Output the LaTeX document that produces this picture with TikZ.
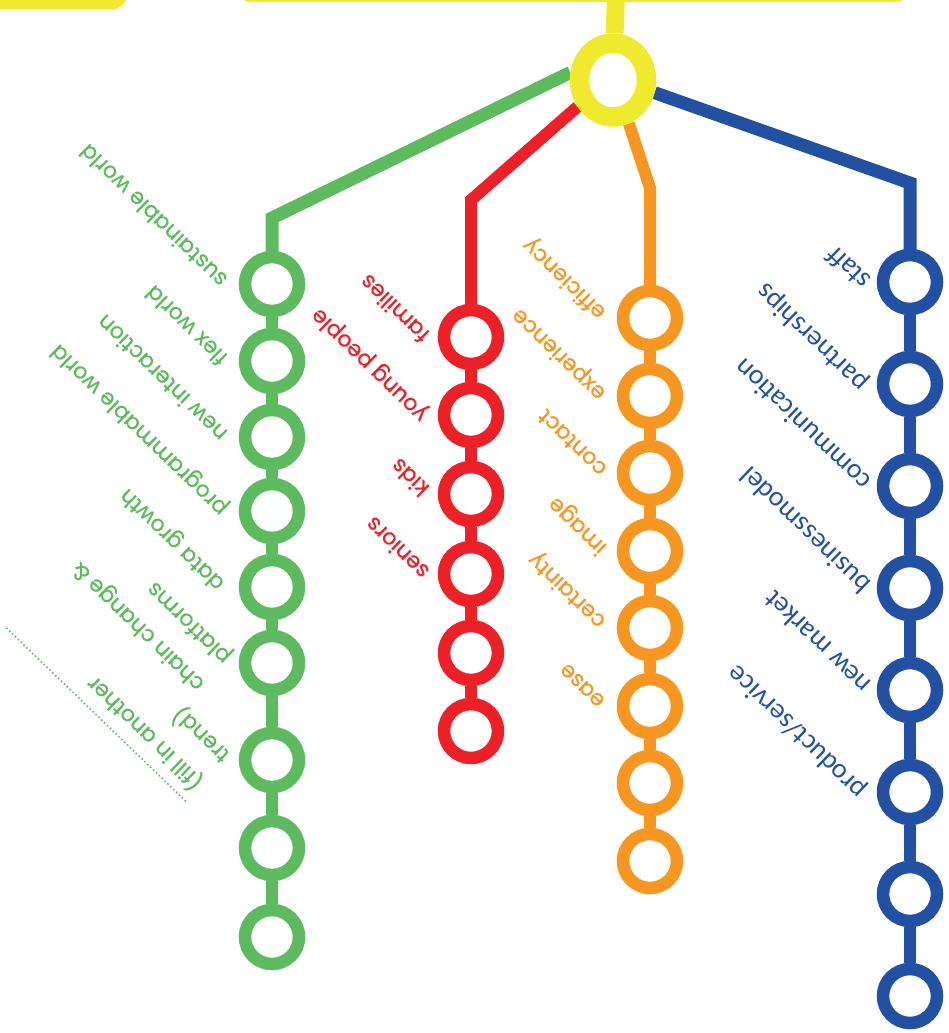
\documentclass[tikz,border=0pt]{standalone}
\usepackage{fontspec}
\setmainfont{Poppins}
\newfontfamily\lblfont[FakeBold=0.6]{Poppins}
\newfontfamily\blufont{Carlito}
\usetikzlibrary{calc,shapes.geometric,backgrounds}
\definecolor{cgreen}{RGB}{94,186,94}
\definecolor{cred}{RGB}{236,32,39}
\definecolor{corange}{RGB}{247,150,32}
\definecolor{cblue}{RGB}{34,80,163}
\definecolor{cyellow}{RGB}{240,234,46}
\begin{document}
\begin{tikzpicture}[x=1pt,y=-1pt,
  ring/.style={circle, draw=#1, line width=12.5pt, fill=white, minimum size=54pt, inner sep=0pt},
  track/.style={draw=#1, line width=12pt},
  lbl/.style={rotate=136, anchor=west, inner sep=0pt, align=left, text=#1,
              font=\lblfont\fontsize{22}{38}\selectfont},
  blbl/.style={rotate=136, anchor=west, inner sep=0pt, align=left, text=cblue,
              font=\blufont\fontsize{28}{34}\selectfont}]
\useasboundingbox (0,0) rectangle (949,1033);
\clip (0,0) rectangle (949,1033);

% top boxes
\fill[cyellow, rounded corners=14pt] (-30,-60) rectangle (127,9);
\fill[cyellow, rounded corners=14pt] (237,-60) rectangle (910,2);

% hub
\node[ellipse, draw=cyellow, line width=19.5pt, fill=white, minimum width=67pt, minimum height=74pt, inner sep=0pt] (hub) at (613,80) {};

% green rings
\foreach \i/\y in {1/284,2/361,3/437,4/511,5/587,6/663,7/760,8/848,9/937}
  \node[ring=cgreen] (g\i) at (272,\y) {};
% red rings
\foreach \i/\y in {1/337,2/415,3/494,4/574,5/653,6/731}
  \node[ring=cred] (r\i) at (471,\y) {};
% orange rings
\foreach \i/\y in {1/318,2/396,3/473,4/551,5/628,6/706,7/783,8/861}
  \node[ring=corange] (o\i) at (650,\y) {};
% blue rings
\foreach \i/\y in {1/282,2/384,3/486,4/588,5/690,6/792,7/894,8/996}
  \node[ring=cblue] (b\i) at (910,\y) {};

\coordinate (top) at (616,-5);
\coordinate (gc) at (272,218);
\coordinate (rc) at (471,200);
\coordinate (oc) at (650,188);
\coordinate (bc) at (910,183);

\begin{scope}[on background layer]
  \draw[cyellow, line width=18pt] (top) -- (hub.88);
  \draw[track=cgreen, line width=13pt] (hub.170) -- (gc) -- (g1.center);
  \draw[track=cred] (hub.217) -- (rc) -- (r1.center);
  \draw[track=corange] (hub.290) -- (oc) -- (o1.center);
  \draw[track=cblue, line width=13pt] (hub.343) -- (bc) -- (b1.center);
  \draw[track=cgreen] (g1) -- (g2) -- (g3) -- (g4) -- (g5) -- (g6) -- (g7) -- (g8) -- (g9);
  \draw[track=cred] (r1) -- (r2) -- (r3) -- (r4) -- (r5) -- (r6);
  \draw[track=corange] (o1) -- (o2) -- (o3) -- (o4) -- (o5) -- (o6) -- (o7) -- (o8);
  \draw[track=cblue] (b1) -- (b2) -- (b3) -- (b4) -- (b5) -- (b6) -- (b7) -- (b8);
\end{scope}

% green labels
\node[lbl=cgreen] (lg1) at ($(g1)+(-49,0)$) {sustainable world};
\node[lbl=cgreen] (lg2) at ($(g2)+(-49,1)$) {flex world};
\node[lbl=cgreen] (lg3) at ($(g3)+(-49,1)$) {new interaction};
\node[lbl=cgreen] (lg4) at ($(g4)+(-47,0)$) {programmable world};
\node[lbl=cgreen] (lg5) at ($(g5)+(-50,-1)$) {data growth};
\node[lbl=cgreen] (lg6) at ($(g6)+(-57,10)$) {chain change \&\\platforms};
\node[lbl=cgreen] (fill) at ($(g7)+(-60,13)$) {(fill in another\\trend)};
\coordinate (dotA) at ($(fill.north west)!7pt!90:(fill.north east)$);
\coordinate (dotB) at ($(dotA)+(136:251pt)$);
\draw[cgreen, line width=2.2pt, line cap=round, dash pattern=on 0pt off 4pt] (dotA) -- (dotB);

% red labels
\node[lbl=cred] (lr1) at ($(r1)+(-46,2)$) {families};
\node[lbl=cred] (lr2) at ($(r2)+(-46,2)$) {young people};
\node[lbl=cred] (lr3) at ($(r3)+(-46,-1)$) {kids};
\node[lbl=cred] (lr4) at ($(r4)+(-46,2)$) {seniors};

% orange labels
\node[lbl=corange] (lo1) at ($(o1)+(-47,-3)$) {efficiency};
\node[lbl=corange] (lo2) at ($(o2)+(-47,0)$) {experience};
\node[lbl=corange] (lo3) at ($(o3)+(-47,0)$) {contact};
\node[lbl=corange] (lo4) at ($(o4)+(-46,-1)$) {image};
\node[lbl=corange] (lo5) at ($(o5)+(-47,-4)$) {certainty};
\node[lbl=corange] (lo6) at ($(o6)+(-48,-2)$) {ease};

% blue labels
\node[blbl] (lb1) at ($(b1)+(-44,4)$) {staff};
\node[blbl] (lb2) at ($(b2)+(-46,3)$) {partnerships};
\node[blbl] (lb3) at ($(b3)+(-44,1)$) {communication};
\node[blbl] (lb4) at ($(b4)+(-44,2)$) {businessmodel};
\node[blbl] (lb5) at ($(b5)+(-44,0)$) {new market};
\node[blbl] (lb6) at ($(b6)+(-48,2)$) {product/service};
\end{tikzpicture}
\end{document}
